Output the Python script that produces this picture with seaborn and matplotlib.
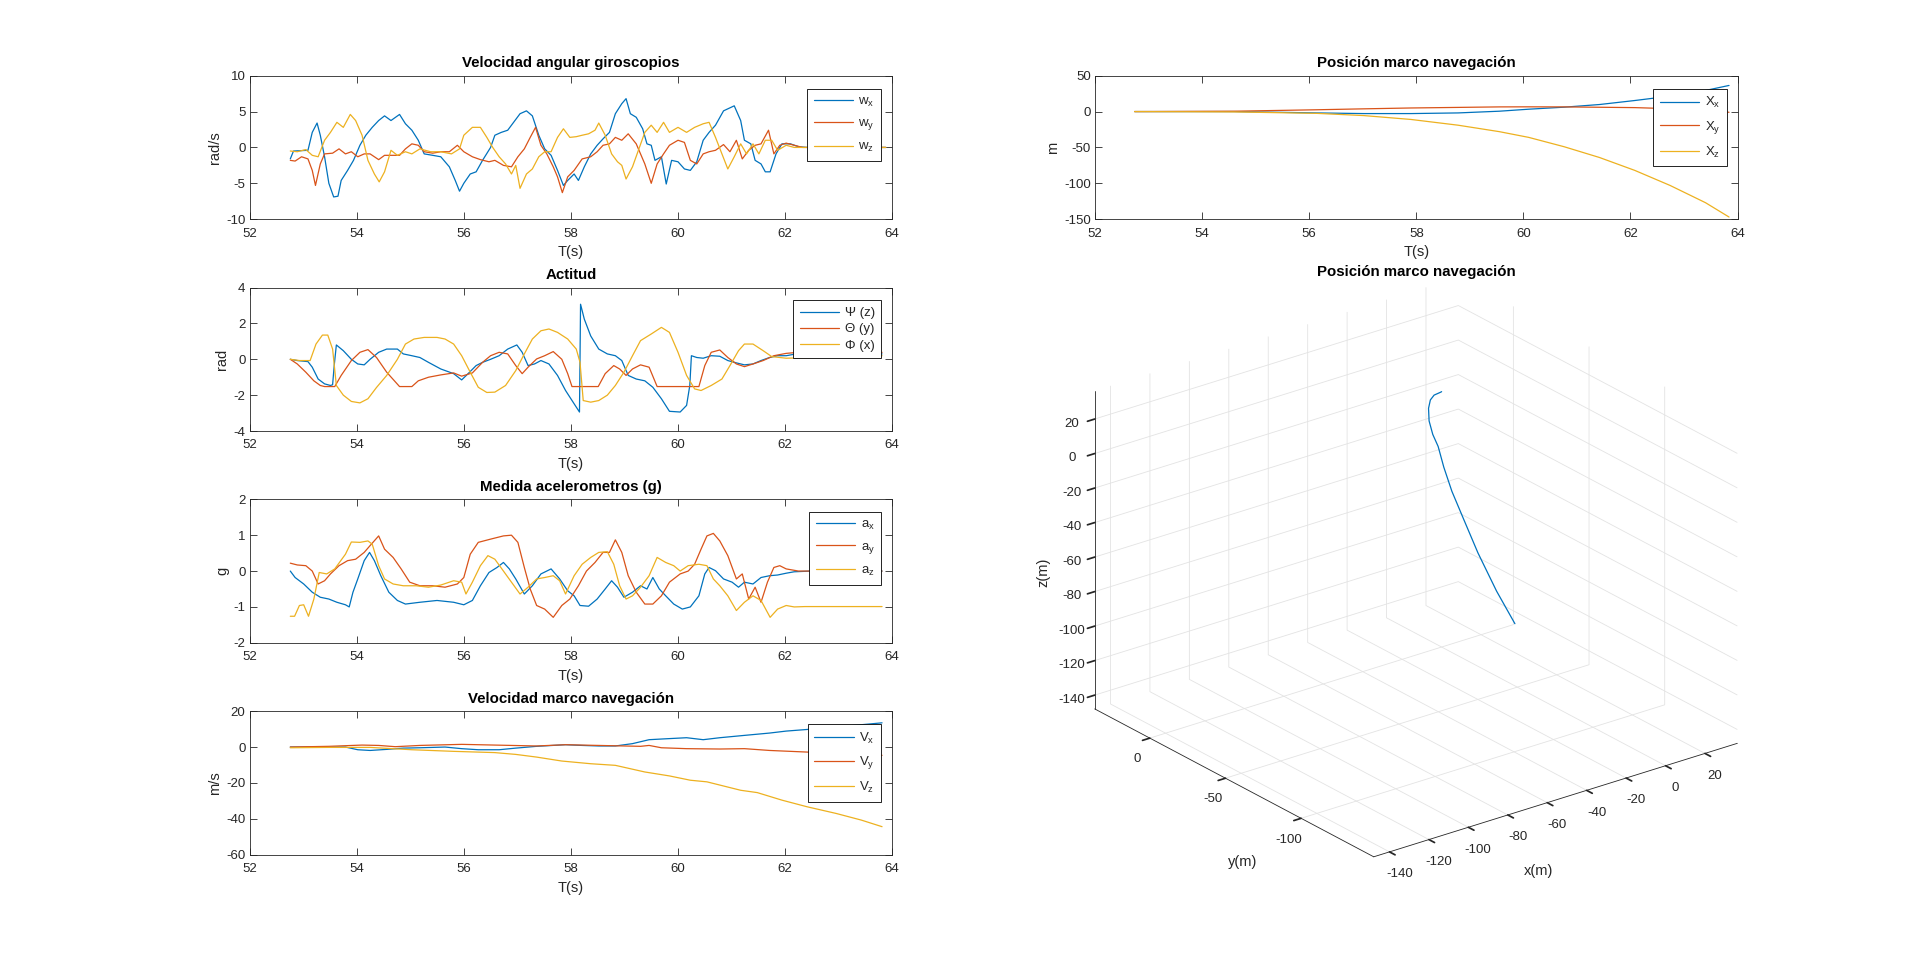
import numpy as np
import pandas as pd
import matplotlib
matplotlib.use("Agg")
import matplotlib.pyplot as plt
import seaborn as sns

# ---------------- data ----------------
# Panel 1: angular velocity (rad/s)
t_wx = [52.76,52.82,53.09,53.17,53.26,53.32,53.40,53.48,53.57,53.65,53.71,53.83,53.94,54.06,54.17,54.29,54.41,54.52,54.64,54.80,54.91,55.03,55.15,55.26,55.42,55.57,55.73,55.84,55.92,56.00,56.12,56.23,56.35,56.50,56.58,56.70,56.82,56.93,57.05,57.17,57.28,57.40,57.51,57.63,57.75,57.86,57.94,58.06,58.14,58.25,58.37,58.49,58.60,58.72,58.83,58.95,59.03,59.11,59.22,59.34,59.42,59.50,59.57,59.69,59.78,59.88,60.00,60.12,60.23,60.35,60.47,60.58,60.70,60.85,61.05,61.17,61.24,61.36,61.44,61.55,61.63,61.72,61.83,61.94,62.10,62.25,62.41,63.88]
wx = [-1.6,-0.5,-0.4,2.1,3.4,1.7,-1.3,-5.0,-6.9,-6.8,-4.6,-3.2,-1.8,0.3,1.7,2.8,3.75,4.4,3.75,4.6,3.3,2.4,1.0,-0.9,-1.1,-1.3,-2.7,-4.6,-6.1,-5.0,-3.7,-3.4,-1.8,0.0,1.7,2.1,2.4,3.5,4.7,5.1,4.4,1.7,-0.2,-1.1,-3.2,-5.3,-4.6,-3.7,-4.6,-2.7,-0.9,0.3,1.2,2.1,4.7,6.1,6.8,4.7,4.2,2.6,0.5,0.3,-1.8,-1.3,-5.1,-1.8,-2.0,-3.0,-3.2,-2.0,1.0,2.1,3.1,5.1,5.8,3.75,1.0,0.5,-1.8,-2.3,-3.4,-3.4,-0.9,0.5,0.5,0.1,0.0,0.0]
t_wy = [52.76,52.85,52.97,53.09,53.17,53.23,53.32,53.40,53.55,53.67,53.79,53.90,54.02,54.14,54.25,54.41,54.52,54.68,54.80,54.91,55.03,55.15,55.26,55.42,55.57,55.73,55.88,56.00,56.16,56.31,56.47,56.58,56.74,56.89,57.01,57.13,57.24,57.34,57.44,57.55,57.67,57.75,57.84,57.94,58.06,58.21,58.37,58.49,58.60,58.72,58.83,58.95,59.07,59.22,59.38,59.50,59.61,59.73,59.84,60.00,60.12,60.23,60.35,60.47,60.58,60.70,60.85,60.97,61.09,61.20,61.32,61.44,61.55,61.69,61.79,61.90,62.02,62.17,62.33,63.88]
wy = [-1.8,-1.9,-1.3,-1.6,-3.2,-5.3,-2.3,-0.9,-0.8,-0.2,-0.9,-0.6,-1.3,-0.9,-0.9,-1.7,-1.1,-1.1,-1.1,-0.2,0.5,0.3,-0.6,-0.8,-0.6,-0.6,0.3,-0.6,-1.3,-1.7,-2.0,-1.8,-2.5,-2.7,-1.3,-0.2,1.4,2.8,0.3,-0.9,-2.7,-4.1,-6.3,-4.1,-3.2,-1.6,-1.3,-0.6,0.3,0.5,1.4,1.0,1.9,0.5,-2.3,-5.0,-2.3,-0.9,0.3,1.0,0.7,-1.8,-2.3,-0.9,-0.6,-0.4,0.4,-0.6,1.0,-1.6,-0.4,0.3,0.5,2.4,-0.9,0.3,0.6,0.3,0.0,0.0]
t_wz = [52.76,52.89,53.05,53.17,53.28,53.40,53.51,53.63,53.75,53.88,53.98,54.10,54.21,54.33,54.42,54.52,54.64,54.76,54.91,55.03,55.18,55.38,55.57,55.77,55.92,56.00,56.16,56.31,56.43,56.54,56.66,56.78,56.89,56.97,57.05,57.17,57.28,57.40,57.51,57.63,57.75,57.86,57.98,58.10,58.21,58.33,58.45,58.52,58.64,58.76,58.87,58.95,59.03,59.15,59.26,59.38,59.50,59.61,59.73,59.84,60.00,60.16,60.31,60.47,60.58,60.70,60.82,60.93,61.05,61.17,61.28,61.40,61.51,61.63,61.75,61.86,62.02,62.17,63.88]
wz = [-0.5,-0.6,-0.3,-1.1,-1.3,1.0,2.1,3.5,2.8,4.6,3.75,1.7,-1.8,-3.7,-4.8,-3.4,-0.4,-1.1,-0.6,-0.9,-0.2,-0.6,-0.6,-0.9,-0.2,1.7,2.8,2.8,1.4,0.0,-1.3,-2.3,-3.7,-2.5,-5.7,-3.7,-3.0,-1.3,-0.6,-0.6,1.4,2.6,1.4,1.5,1.7,1.9,2.4,3.4,1.7,-0.9,-2.0,-2.5,-4.4,-2.7,-0.4,2.1,3.1,2.1,3.5,2.1,2.8,2.1,2.8,3.3,3.5,1.4,-0.9,-3.0,-1.3,0.5,-0.9,0.5,-0.9,1.0,1.0,-0.4,0.3,0.0,0.0]

# Panel 2: attitude (rad)
t_psi = [52.76,52.89,53.09,53.17,53.28,53.40,53.51,53.55,53.58,53.62,53.75,53.90,54.02,54.14,54.25,54.41,54.56,54.76,54.87,55.03,55.18,55.34,55.57,55.81,55.96,56.08,56.23,56.35,56.50,56.66,56.82,56.99,57.09,57.20,57.32,57.44,57.59,57.75,57.90,58.06,58.16,58.18,58.25,58.37,58.52,58.68,58.83,58.95,59.07,59.22,59.38,59.53,59.69,59.84,60.04,60.16,60.22,60.25,60.35,60.47,60.62,60.78,60.93,61.09,61.24,61.40,61.55,61.71,61.86,62.02,62.17,63.81]
psi = [0.0,-0.07,-0.13,-0.44,-1.1,-1.37,-1.46,-1.42,-0.35,0.8,0.48,0.0,-0.26,-0.31,0.0,0.39,0.57,0.57,0.3,0.2,0.1,-0.17,-0.54,-0.8,-1.15,-0.8,-0.35,-0.17,0.0,0.2,0.57,0.8,0.39,-0.35,-0.26,-0.07,-0.26,-0.9,-1.74,-2.48,-2.94,3.07,2.24,1.3,0.57,0.3,0.2,-0.07,-0.9,-1.1,-1.2,-1.56,-2.2,-2.9,-2.94,-2.57,-1.46,0.2,0.1,0.06,0.2,0.17,-0.07,-0.2,-0.31,-0.26,-0.07,0.1,0.2,0.2,0.28,0.3]
t_theta = [52.76,52.89,53.05,53.20,53.32,53.40,53.59,53.71,53.90,54.06,54.21,54.37,54.56,54.80,55.03,55.15,55.34,55.57,55.81,55.96,56.16,56.35,56.50,56.66,56.82,56.97,57.09,57.20,57.36,57.51,57.67,57.83,57.94,58.02,58.51,58.64,58.80,58.91,59.03,59.15,59.30,59.46,59.61,60.39,60.50,60.62,60.78,60.93,61.09,61.24,61.40,61.59,61.79,62.02,62.25,63.81]
theta = [0.0,-0.26,-0.72,-1.2,-1.46,-1.52,-1.52,-0.9,-0.07,0.39,0.54,0.1,-0.72,-1.52,-1.52,-1.2,-1.0,-0.87,-0.76,-0.94,-0.76,-0.17,0.2,0.39,0.3,-0.35,-0.8,-0.44,0.02,0.2,0.43,0.0,-0.8,-1.52,-1.52,-0.8,-0.35,-0.54,-0.9,-0.54,-0.31,-0.44,-1.52,-1.52,-0.35,0.39,0.52,0.1,-0.26,-0.41,-0.26,-0.07,0.2,0.33,0.39,0.39]
t_phi = [52.76,52.93,53.13,53.24,53.36,53.46,53.55,53.62,53.75,53.90,54.06,54.21,54.37,54.56,54.76,54.91,55.07,55.26,55.50,55.65,55.81,55.96,56.12,56.27,56.43,56.58,56.78,56.97,57.13,57.28,57.44,57.59,57.75,57.94,58.10,58.17,58.23,58.37,58.52,58.68,58.83,58.99,59.15,59.30,59.50,59.69,59.84,60.00,60.16,60.31,60.43,60.62,60.82,60.97,61.13,61.24,61.40,61.59,61.75,62.02,63.81]
phi = [0.0,-0.07,-0.07,0.85,1.35,1.35,0.57,-1.46,-2.0,-2.35,-2.43,-2.2,-1.57,-0.9,0.0,0.85,1.13,1.22,1.22,1.13,0.85,0.2,-0.72,-1.56,-1.85,-1.83,-1.46,-0.63,0.3,1.13,1.59,1.69,1.5,1.13,0.57,-0.17,-2.3,-2.39,-2.3,-2.0,-1.46,-0.72,0.2,1.04,1.41,1.78,1.5,0.39,-0.9,-1.65,-1.74,-1.46,-1.1,-0.35,0.48,0.85,0.85,0.48,0.15,0.06,0.2]

# Panel 3: accelerometers (g)
t_ax = [52.76,52.85,53.01,53.17,53.32,53.48,53.63,53.79,53.86,53.93,54.02,54.14,54.24,54.33,54.45,54.60,54.76,54.91,55.18,55.50,55.81,56.00,56.16,56.31,56.47,56.62,56.74,56.85,56.97,57.13,57.28,57.44,57.63,57.79,57.94,58.06,58.17,58.33,58.49,58.64,58.76,58.87,58.99,59.15,59.30,59.42,59.53,59.65,59.77,59.92,60.08,60.23,60.39,60.50,60.58,60.70,60.85,61.01,61.13,61.24,61.40,61.55,61.71,61.86,62.02,62.17,62.49,63.81]
ax_g = [0.0,-0.18,-0.36,-0.59,-0.73,-0.78,-0.87,-0.94,-1.0,-0.59,-0.22,0.29,0.52,0.29,-0.13,-0.59,-0.82,-0.92,-0.87,-0.82,-0.87,-0.94,-0.82,-0.41,-0.04,0.1,0.24,0.06,-0.22,-0.64,-0.41,-0.08,0.06,-0.22,-0.55,-0.69,-0.96,-0.98,-0.78,-0.5,-0.27,-0.45,-0.73,-0.59,-0.41,-0.5,-0.18,-0.5,-0.69,-0.92,-1.06,-1.0,-0.69,-0.08,0.1,0.01,-0.22,-0.31,-0.45,-0.31,-0.36,-0.18,-0.13,-0.11,-0.06,-0.02,0.0,0.0]
t_ay = [52.76,52.89,53.05,53.17,53.28,53.40,53.51,53.67,53.83,53.98,54.14,54.25,54.41,54.52,54.68,54.83,54.99,55.18,55.42,55.65,55.88,56.00,56.12,56.27,56.50,56.74,56.89,57.01,57.13,57.24,57.36,57.51,57.67,57.83,57.98,58.14,58.29,58.45,58.60,58.72,58.83,58.95,59.07,59.22,59.38,59.53,59.69,59.84,60.04,60.19,60.31,60.43,60.54,60.66,60.78,60.93,61.09,61.20,61.32,61.44,61.55,61.67,61.79,61.90,62.02,62.25,63.81]
ay_g = [0.22,0.17,0.15,0.0,-0.36,-0.27,-0.08,0.15,0.29,0.33,0.52,0.71,0.98,0.61,0.38,0.06,-0.31,-0.41,-0.41,-0.45,-0.36,-0.18,0.47,0.8,0.89,0.98,1.0,0.8,0.1,-0.5,-0.96,-1.06,-1.29,-0.96,-0.78,-0.41,0.0,0.24,0.52,0.52,0.87,0.52,-0.13,-0.59,-0.92,-0.92,-0.69,-0.31,-0.08,0.0,0.19,0.61,0.98,1.05,0.84,0.43,-0.22,-0.08,-0.78,-0.45,-0.87,-0.31,0.1,0.15,0.06,0.0,0.0]
t_az = [52.76,52.84,52.93,53.01,53.10,53.20,53.30,53.44,53.59,53.79,53.90,54.06,54.21,54.29,54.41,54.52,54.68,54.87,55.11,55.34,55.57,55.81,55.96,56.04,56.16,56.31,56.45,56.58,56.74,56.89,57.05,57.20,57.36,57.51,57.67,57.79,57.90,58.06,58.21,58.37,58.52,58.68,58.80,58.91,59.03,59.15,59.30,59.46,59.61,59.77,59.92,60.04,60.19,60.39,60.54,60.66,60.78,60.93,61.09,61.24,61.40,61.55,61.72,61.86,62.02,62.17,62.37,63.81]
az_g = [-1.26,-1.26,-0.96,-0.94,-1.26,-0.78,-0.04,-0.08,0.06,0.47,0.81,0.8,0.84,0.75,0.15,-0.22,-0.36,-0.41,-0.41,-0.45,-0.39,-0.27,-0.31,-0.64,-0.31,0.15,0.43,0.33,0.0,-0.31,-0.64,-0.45,-0.22,-0.18,-0.13,-0.27,-0.64,-0.13,0.19,0.38,0.52,0.54,0.19,-0.41,-0.78,-0.69,-0.45,-0.13,0.38,0.24,0.15,0.0,0.15,0.19,0.15,-0.22,-0.41,-0.69,-1.1,-0.87,-0.69,-0.82,-1.29,-1.06,-0.96,-1.0,-0.99,-0.99]

# Panel 4: navigation-frame velocity (m/s)
t_vx = [52.76,53.79,54.02,54.25,54.56,54.87,55.18,55.65,55.96,56.27,56.66,56.97,57.36,57.90,58.21,58.52,58.83,59.15,59.46,59.77,60.16,60.47,60.78,61.24,61.71,62.02,62.41,62.80,63.26,63.81]
vx = [0.0,0.0,-1.5,-1.9,-1.3,-0.6,-0.4,0.0,-0.9,-1.5,-1.5,-0.6,0.4,1.3,0.9,0.6,0.6,1.9,4.1,4.6,5.2,4.1,5.2,6.5,7.8,8.9,9.8,11.1,12.0,13.5]
t_vy = [52.76,53.48,54.10,54.41,54.72,55.18,55.96,56.58,57.36,57.90,58.52,59.30,59.46,59.69,60.16,60.78,61.24,61.71,62.41,63.11,63.81]
vy = [0.0,0.4,1.1,0.9,0.2,0.9,1.5,1.1,0.6,1.3,0.9,0.4,0.9,-0.4,-0.9,-1.1,-0.9,-1.9,-2.8,-3.7,-4.6]
t_vz = [52.76,53.48,54.25,55.03,55.81,56.58,56.97,57.36,57.83,58.37,58.83,59.38,59.84,60.23,60.54,61.17,61.48,61.94,62.41,62.95,63.42,63.81]
vz = [-0.4,-0.2,-0.2,-1.5,-2.4,-3.1,-4.1,-5.6,-7.8,-9.3,-10.2,-13.9,-16.1,-18.5,-19.4,-24.1,-25.4,-29.6,-33.3,-37.0,-40.7,-44.4]

# Position in navigation frame (m)
t_pos = [52.74,54.60,56.14,57.02,57.90,58.78,59.55,60.10,60.76,61.42,62.08,62.74,63.40,63.84]
pos_x = [0.0,0.0,-1.9,-2.8,-2.8,-1.9,0.5,3.3,6.1,9.8,15.4,21.5,29.4,36.4]
pos_y = [0.0,0.5,2.5,3.8,5.0,5.8,6.5,6.6,6.5,6.0,5.5,4.0,2.0,-1.0]
pos_z = [0.0,-0.5,-2.5,-5.6,-11.0,-19.0,-28.0,-36.0,-49.0,-64.0,-82.0,-103.0,-127.0,-147.0]

# text
titles = ["Velocidad angular giroscopios", "Actitud", "Medida acelerometros (g)",
          "Velocidad marco navegación", "Posición marco navegación"]
ylabels = ["rad/s", "rad", "g", "m/s", "m"]
leg_gyro = [r"w$_{\mathregular{x}}$", r"w$_{\mathregular{y}}$", r"w$_{\mathregular{z}}$"]
leg_att = ["Ψ (z)", "Θ (y)", "Φ (x)"]
leg_acc = [r"a$_{\mathregular{x}}$", r"a$_{\mathregular{y}}$", r"a$_{\mathregular{z}}$"]
leg_vel = [r"V$_{\mathregular{x}}$", r"V$_{\mathregular{y}}$", r"V$_{\mathregular{z}}$"]
leg_pos = [r"X$_{\mathregular{x}}$", r"X$_{\mathregular{y}}$", r"X$_{\mathregular{z}}$"]

# ---------------- style ----------------
sns.set_theme(style="white")
plt.rcParams['font.family'] = ['Liberation Sans', 'DejaVu Sans']
plt.rcParams['mathtext.fontset'] = 'custom'
plt.rcParams['mathtext.rm'] = 'Liberation Sans'
plt.rcParams['axes.unicode_minus'] = False
plt.rcParams['axes.edgecolor'] = '#262626'
plt.rcParams['axes.linewidth'] = 0.6
plt.rcParams['xtick.color'] = '#262626'
plt.rcParams['ytick.color'] = '#262626'
plt.rcParams['text.color'] = '#262626'
plt.rcParams['axes.labelcolor'] = '#262626'
plt.rcParams['grid.color'] = '#e3e3e3'
plt.rcParams['grid.linewidth'] = 0.6

C = ['#0072BD', '#D95319', '#EDB120']
LW = 0.9

fig = plt.figure(figsize=(19.2, 9.63), dpi=100)
fig.patch.set_facecolor('white')

L, W, H = 0.13, 0.3347, 0.149
R = 0.5703
bottoms = [0.7724, 0.5524, 0.3325, 0.1125]


def style2d(ax, ylim, yticks, title, ylabel):
    ax.set_xlim(52, 64)
    ax.set_xticks(np.arange(52, 65, 2))
    ax.set_ylim(*ylim)
    ax.set_yticks(yticks)
    ax.tick_params(direction='in', length=5, width=0.6, top=True, right=True,
                   labelsize=9.5, bottom=True, left=True)
    ax.tick_params(axis='x', pad=6)
    ax.tick_params(axis='y', pad=3)
    ax.set_title(title, fontsize=10.8, fontweight='bold', pad=6, color='black')
    ax.set_xlabel("T(s)", fontsize=10.5, labelpad=4)
    ax.set_ylabel(ylabel, fontsize=10.5, labelpad=3)
    for s in ax.spines.values():
        s.set_visible(True)
        s.set_color('#262626')
        s.set_linewidth(0.6)


def add_lines(ax, series, labels):
    for (t, v), lab, c in zip(series, labels, C):
        df = pd.DataFrame({"t": t, "v": v})
        sns.lineplot(data=df, x="t", y="v", ax=ax, color=c, lw=LW, label=lab,
                     estimator=None, sort=False)


def legend(ax, spacing, anchor=(0.983, 0.91)):
    lg = ax.legend(loc='upper right', bbox_to_anchor=anchor, fontsize=9.5,
                   frameon=True, fancybox=False, framealpha=1, edgecolor='black',
                   handlelength=3.0, handletextpad=0.4, labelspacing=spacing,
                   borderpad=0.5, borderaxespad=0)
    lg.get_frame().set_linewidth(0.6)


panels = [
    ([(t_wx, wx), (t_wy, wy), (t_wz, wz)], leg_gyro, (-10, 10), [-10, -5, 0, 5, 10], 0.65),
    ([(t_psi, psi), (t_theta, theta), (t_phi, phi)], leg_att, (-4, 4), [-4, -2, 0, 2, 4], 0.3),
    ([(t_ax, ax_g), (t_ay, ay_g), (t_az, az_g)], leg_acc, (-2, 2), [-2, -1, 0, 1, 2], 0.65),
    ([(t_vx, vx), (t_vy, vy), (t_vz, vz)], leg_vel, (-60, 20), [-60, -40, -20, 0, 20], 0.65),
]

for i, (series, labels, ylim, yt, sp) in enumerate(panels):
    ax = fig.add_axes([L, bottoms[i], W, H])
    add_lines(ax, series, labels)
    style2d(ax, ylim, yt, titles[i], ylabels[i])
    legend(ax, sp)

# 3D trajectory (added before the top-right panel so that panel stays on top)
ax3 = fig.add_axes([0.5659, 0.0884, W, 0.6286], projection='3d')
ax3.set_facecolor('none')
ax3.patch.set_alpha(0)
ax3.plot(pos_x, pos_y, pos_z, color=C[0], lw=LW)
ax3.set_proj_type('ortho')
ax3.view_init(elev=24, azim=-127.5)
lim = (-148, 36.4)
ax3.set_xlim(*lim)
ax3.set_ylim(*lim)
ax3.set_zlim(*lim)
ax3.set_box_aspect((1, 1, 0.76), zoom=1.18)
ax3.set_xticks(np.arange(-140, 21, 20))
ax3.set_yticks([-100, -50, 0])
ax3.set_zticks(np.arange(-140, 21, 20))
for a in (ax3.xaxis, ax3.yaxis, ax3.zaxis):
    a.set_pane_color((1, 1, 1, 0))
    a.pane.set_edgecolor((1, 1, 1, 0))
    a.line.set_color('#262626')
    a.line.set_linewidth(0.6)
    a._axinfo['tick']['inward_factor'] = 0.25
    a._axinfo['tick']['outward_factor'] = 0.0
ax3.tick_params(labelsize=9.5, pad=0, width=0.6, colors='#262626')
ax3.set_xlabel("")
ax3.set_ylabel("")
ax3.set_zlabel("")
ax3.grid(True)
fig.text(R + W / 2, 0.7174, titles[4], ha='center', va='center', fontsize=10.8,
         fontweight='bold', color='black')
fig.text(0.8013, 0.0959, "x(m)", ha='center', va='center', fontsize=10.5)
fig.text(0.6474, 0.1049, "y(m)", ha='center', va='center', fontsize=10.5)
fig.text(0.5436, 0.4054, "z(m)", ha='center', va='center', fontsize=10.5, rotation=90)

# Right top: position
axp = fig.add_axes([R, bottoms[0], W, H])
add_lines(axp, [(t_pos, pos_x), (t_pos, pos_y), (t_pos, pos_z)], leg_pos)
style2d(axp, (-150, 50), [-150, -100, -50, 0, 50], titles[4], ylabels[4])
legend(axp, 0.65)

fig.savefig("out.png", dpi=100, facecolor='white')
